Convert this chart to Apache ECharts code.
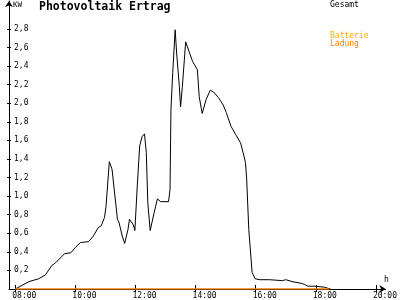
<!DOCTYPE html>
<html><head><meta charset="utf-8">
<script src="https://cdn.jsdelivr.net/npm/echarts@6/dist/echarts.min.js"></script>
<style>html,body{margin:0;padding:0;background:#fff}#c{width:400px;height:300px}</style>
</head><body><div id="c"></div>
<script>
const hours = [8.00,8.46,8.78,9.00,9.21,9.37,9.64,9.85,10.01,10.17,
10.44,10.60,10.76,10.86,10.97,11.02,11.13,11.22,11.40,11.45,
11.56,11.64,11.75,11.80,11.93,11.98,12.06,12.14,12.22,12.30,
12.36,12.41,12.49,12.62,12.73,12.84,13.10,13.15,13.18,13.24,
13.32,13.37,13.46,13.50,13.56,13.67,13.80,13.90,14.06,14.12,
14.22,14.35,14.49,14.60,14.76,14.92,15.02,15.18,15.34,15.50,
15.61,15.66,15.70,15.77,15.88,15.98,16.14,16.46,16.89,17.00,
17.21,17.53,17.62,17.74,17.96,18.28,18.49];
const gesamt = [0.00,0.08,0.11,0.15,0.25,0.29,0.38,0.39,0.45,0.50,
0.51,0.57,0.66,0.68,0.77,0.89,1.37,1.29,0.75,0.72,
0.57,0.49,0.64,0.75,0.69,0.63,1.11,1.54,1.64,1.67,
1.47,0.93,0.63,0.82,0.97,0.94,0.94,1.07,1.93,2.33,
2.79,2.54,2.18,1.96,2.18,2.66,2.54,2.45,2.36,2.07,
1.89,2.04,2.14,2.12,2.06,1.98,1.90,1.75,1.66,1.57,
1.43,1.36,1.18,0.64,0.18,0.11,0.10,0.10,0.09,0.10,
0.08,0.06,0.05,0.03,0.03,0.02,0.00];
const ladungHours = [8.00, 18.45];
const ladung = [0, 0];
const xTicks = [8,10,12,14,16,18,20];
const yTicks = [0.2,0.4,0.6,0.8,1.0,1.2,1.4,1.6,1.8,2.0,2.2,2.4,2.6,2.8];

const mono = 'DejaVu Sans Mono';
const chart = echarts.init(document.getElementById('c'), null, {renderer:'canvas'});
const fmtH = v => (v<10?'0':'') + Math.round(v) + ':00';
chart.setOption({
  animation:false,
  backgroundColor:'#fff',
  title:{text:'Photovoltaik Ertrag', left:39, top:1, padding:0,
    textStyle:{fontFamily:mono, fontWeight:'bold', fontSize:11.5, color:'#000'}},
  grid:{left:9, right:0, top:1, bottom:10, containLabel:false},
  xAxis:[{
    type:'value', min:7.792, max:20.32,
    axisLine:{show:true, lineStyle:{color:'#000', width:1}, symbol:['none','arrow'], symbolSize:[6,6]},
    axisTick:{show:true, inside:false, length:3, lineStyle:{color:'#000'}, customValues:xTicks},
    axisLabel:{show:true, customValues:xTicks, formatter:fmtH, align:'left', margin:3,
      fontFamily:mono, fontSize:8, color:'#000', padding:[0,0,0,-3]},
    splitLine:{show:false}
  },{
    type:'value', min:7.792, max:20.32, position:'bottom',
    axisLine:{show:false},
    axisTick:{show:true, inside:true, length:4, lineStyle:{color:'#000'}, customValues:xTicks},
    axisLabel:{show:false}, splitLine:{show:false}
  }],
  yAxis:[{
    type:'value', min:0, max:3.1,
    axisLine:{show:true, lineStyle:{color:'#000', width:1}, symbol:['none','arrow'], symbolSize:[6,6]},
    axisTick:{show:true, inside:false, length:2, lineStyle:{color:'#000'}, customValues:yTicks},
    axisLabel:{show:true, inside:true, margin:5, customValues:yTicks,
      formatter:v=>v.toFixed(1).replace('.',','), fontFamily:mono, fontSize:8, color:'#000'},
    splitLine:{show:false}
  },{
    type:'value', min:0, max:3.1, position:'left',
    axisLine:{show:false},
    axisTick:{show:true, inside:true, length:2, lineStyle:{color:'#000'}, customValues:yTicks},
    axisLabel:{show:false}, splitLine:{show:false}
  }],
  graphic:[
    {type:'text', left:13, top:1, style:{text:'KW', font:'7.5px "DejaVu Sans Mono"', fill:'#000'}},
    {type:'text', left:384, top:276, style:{text:'h', font:'8px "DejaVu Sans Mono"', fill:'#000'}},
    {type:'text', left:330, top:1, style:{text:'Gesamt', font:'8px "DejaVu Sans Mono"', fill:'#000'}},
    {type:'text', left:330, top:32, style:{text:'Batterie', font:'8px "DejaVu Sans Mono"', fill:'#ffaa00'}},
    {type:'text', left:330, top:40, style:{text:'Ladung', font:'8px "DejaVu Sans Mono"', fill:'#ff8000'}}
  ],
  series:[
    {name:'Gesamt', type:'line', xAxisIndex:0, yAxisIndex:0, showSymbol:false, symbol:'none',
     lineStyle:{color:'#000', width:1}, data:hours.map((h,i)=>[h,gesamt[i]])},
    {name:'Batterie Ladung', type:'line', xAxisIndex:0, yAxisIndex:0, showSymbol:false, symbol:'none',
     lineStyle:{color:'#ff8000', width:1.3}, data:ladungHours.map((h,i)=>[h,ladung[i]])}
  ]
});
</script></body></html>
